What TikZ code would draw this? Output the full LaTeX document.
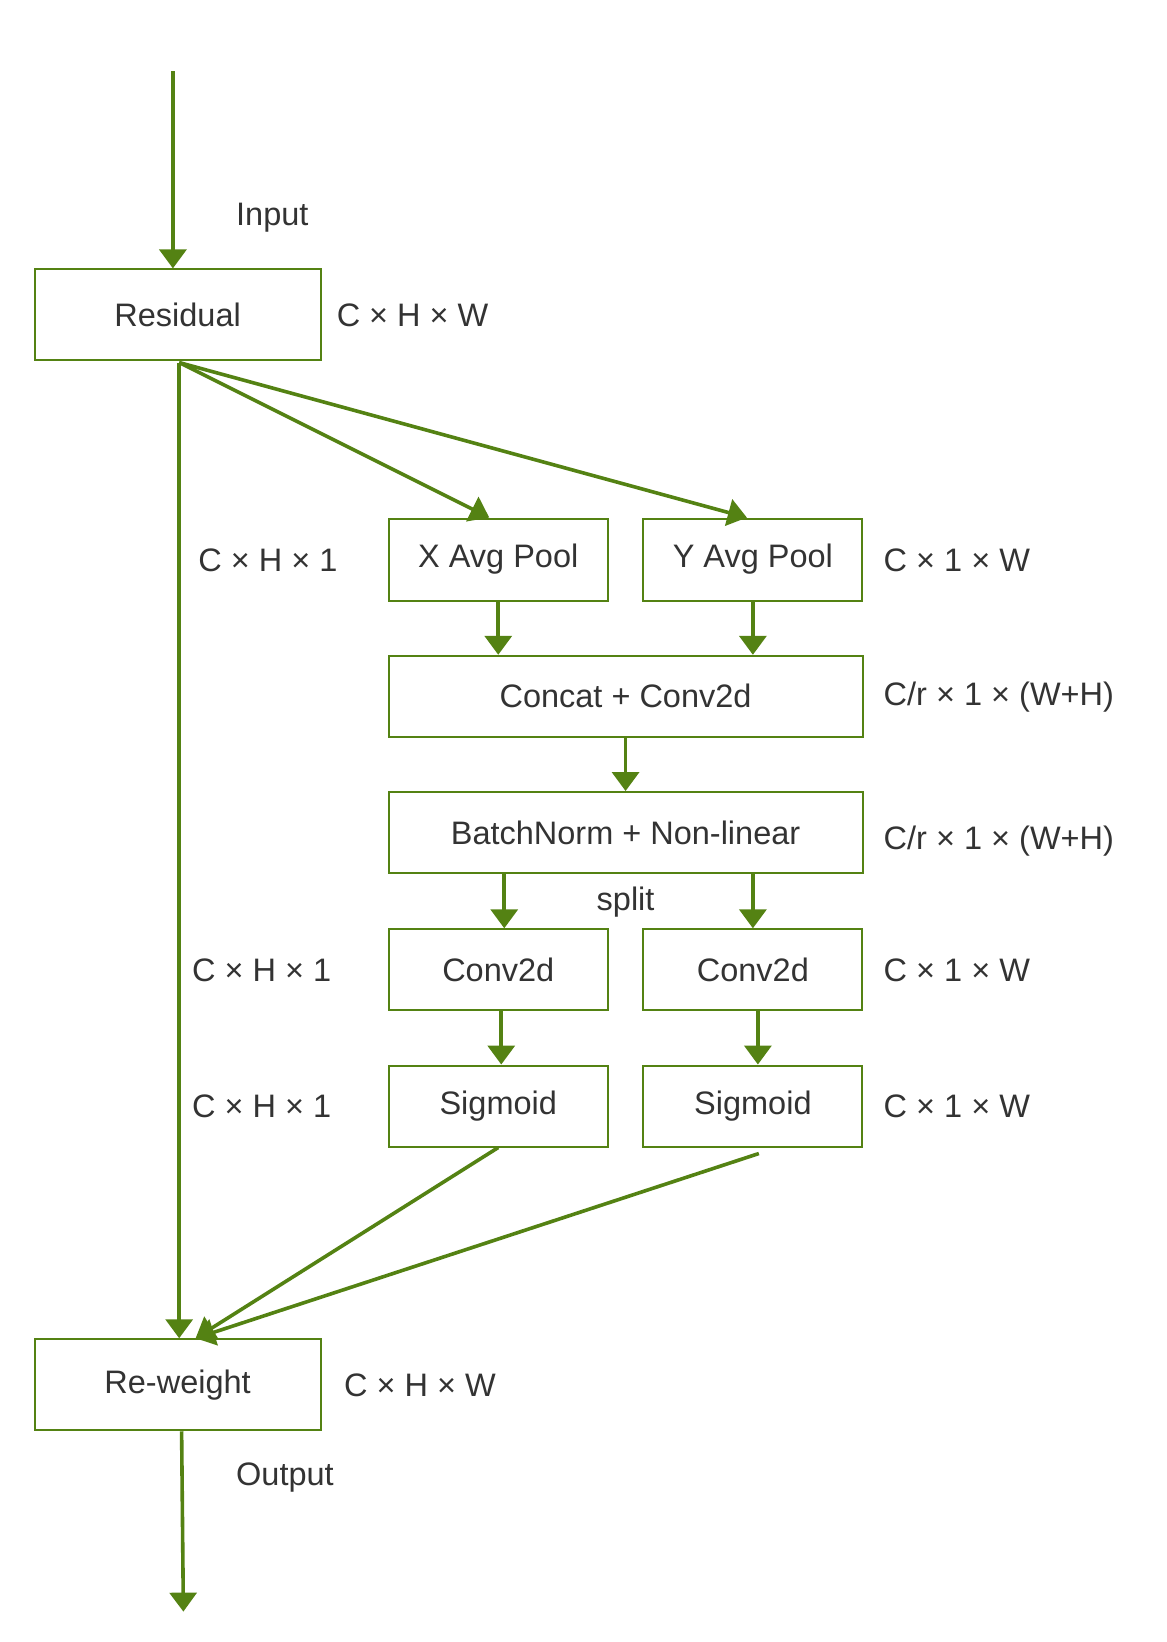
\documentclass[tikz,border=0pt]{standalone}
\usepackage{fontspec}
\setmainfont{Liberation Sans}
\usetikzlibrary{arrows.meta}
\definecolor{leaf}{RGB}{84,130,19}
\tikzset{
  blk/.style={draw=leaf, line width=2pt, inner sep=0pt},
  arr/.style={draw=leaf, line width=3.6pt, -{Triangle[length=19pt,width=27pt]}},
  lbl/.style={text=black!80, anchor=west, font=\fontsize{32.5}{38}\selectfont}
}
\begin{document}
\begin{tikzpicture}[x=1.048pt,y=-1.048pt,font=\fontsize{32.5}{38}\selectfont, text=black!80]
\useasboundingbox (0,0) rectangle (1113.5,1567);

% boxes
\node[blk, minimum width=286pt, minimum height=91pt] (res) at (169.5,300.5) {Residual};
\node[blk, minimum width=219pt, minimum height=82pt] (xpool) at (475.5,534) {X Avg Pool};
\node[blk, minimum width=219pt, minimum height=82pt] (ypool) at (718.5,534) {Y Avg Pool};
\node[blk, minimum width=474pt, minimum height=81pt] (cat) at (597,664.5) {Concat + Conv2d};
\node[blk, minimum width=474pt, minimum height=81pt] (bn) at (597,794.5) {BatchNorm + Non-linear};
\node[blk, minimum width=219pt, minimum height=81pt] (cx) at (475.5,925.5) {Conv2d};
\node[blk, minimum width=219pt, minimum height=81pt] (cy) at (718.5,925.5) {Conv2d};
\node[blk, minimum width=219pt, minimum height=81pt] (sx) at (475.5,1055.5) {Sigmoid};
\node[blk, minimum width=219pt, minimum height=81pt] (sy) at (718.5,1055.5) {Sigmoid};
\node[blk, minimum width=286pt, minimum height=91pt] (rw) at (169.5,1321.5) {Re-weight};

% labels
\node[lbl] (lin) at (222,208) {Input};
\node[lbl] (l1) at (318,301) {C × H × W};
\node[lbl] (l2) at (186,535) {C × H × 1};
\node[lbl] (l3) at (840,535) {C × 1 × W};
\node[lbl] (l4) at (840,665) {C/r × 1 × (W+H)};
\node[lbl] (l5) at (840,803) {C/r × 1 × (W+H)};
\node (lsp) at (597,861) {split};
\node[lbl] (l6) at (180,926) {C × H × 1};
\node[lbl] (l7) at (840,926) {C × 1 × W};
\node[lbl] (l8) at (180,1056) {C × H × 1};
\node[lbl] (l9) at (840,1056) {C × 1 × W};
\node[lbl] (l10) at (325,1322) {C × H × W};
\node[lbl] (lout) at (222,1410) {Output};

% connectors
\coordinate (in) at (165,68);
\coordinate (out) at (175,1538);
\coordinate (rb) at (171,346);
\draw[arr] (in) -- (in|-res.north);
\draw[arr] (rb) -- (rb|-rw.north);
\draw[arr] (rb) -- ([xshift=-9pt]xpool.north);
\draw[arr] (rb) -- ([xshift=-6pt]ypool.north);
\draw[arr] (xpool.south) -- (xpool.south|-cat.north);
\draw[arr] (ypool.south) -- (ypool.south|-cat.north);
\draw[arr] (cat) -- (bn);
\draw[arr] ([xshift=6pt]cx.north|-bn.south) -- ([xshift=6pt]cx.north);
\draw[arr] (cy.north|-bn.south) -- (cy.north);
\draw[arr] ([xshift=3pt]cx.south) -- ([xshift=3pt]sx.north);
\draw[arr] ([xshift=5pt]cy.south) -- ([xshift=5pt]sy.north);
\draw[arr] (sx.south) -- ([xshift=18pt]rw.north);
\draw[arr] ([xshift=6pt,yshift=-6pt]sy.south) -- ([xshift=18pt]rw.north);
\draw[arr] ([xshift=4pt]rw.south) -- (out);
\end{tikzpicture}
\end{document}
